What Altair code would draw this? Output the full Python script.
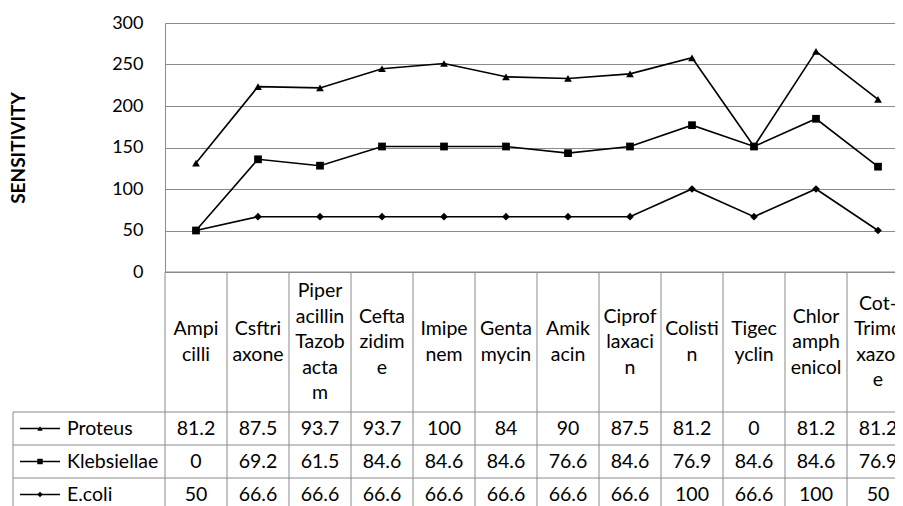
import altair as alt
import pandas as pd

# ---- data ----
drug_labels = ["Ampi\ncilli", "Csftri\naxone", "Piper\nacillin\nTazob\nacta\nm",
               "Cefta\nzidim\ne", "Imipe\nnem", "Genta\nmycin", "Amik\nacin",
               "Ciprof\nlaxaci\nn", "Colisti\nn", "Tigec\nyclin",
               "Chlor\namph\nenicol", "Cot-\nTrimo\nxazol\ne"]
series = ["Proteus", "Klebsiellae", "E.coli"]
proteus = [81.2, 87.5, 93.7, 93.7, 100, 84, 90, 87.5, 81.2, 0, 81.2, 81.2]
klebsiellae = [0, 69.2, 61.5, 84.6, 84.6, 84.6, 76.6, 84.6, 76.9, 84.6, 84.6, 76.9]
ecoli = [50, 66.6, 66.6, 66.6, 66.6, 66.6, 66.6, 66.6, 100, 66.6, 100, 50]
y_ticks = [0, 50, 100, 150, 200, 250, 300]
shapes = ["triangle-up", "square", "diamond"]

# ---- layout constants (pixels / column units) ----
COL_PX = 62
N = len(drug_labels)
SVG_W = 887
SVG_H = 498
PAD_L = 157
PAD_T = 15
PLOT_W = SVG_W - PAD_L
PLOT_H = 249
HEADER_H = 140
ROW_H = 33
LINE_H = 25.5
LABEL_LEFT = -152 / COL_PX
LEG_X1, LEG_X2, LEG_PT = -145 / COL_PX, -105 / COL_PX, -125 / COL_PX
LABEL_TEXT_X = -98 / COL_PX
GRID = "#8a8a8a"
FONT = "Lato"
FS = 19.5

raw = {"Proteus": proteus, "Klebsiellae": klebsiellae, "E.coli": ecoli}

# stacked line values (E.coli at bottom, then Klebsiellae, then Proteus)
rows = []
for i in range(N):
    e = ecoli[i]
    k = e + klebsiellae[i]
    p = k + proteus[i]
    for s, v in zip(series, [p, k, e]):
        rows.append({"x": i + 0.5, "series": s, "value": v})
lines_df = pd.DataFrame(rows)

xscale = alt.Scale(domain=[0, PLOT_W / COL_PX], nice=False, zero=False)
shape_scale = alt.Scale(domain=series, range=shapes)
table_total = HEADER_H + 3 * ROW_H
tscale = alt.Scale(domain=[0, table_total], range=[PLOT_H, PLOT_H + table_total],
                   nice=False, zero=False)

base = alt.Chart(lines_df)
lines = base.mark_line(color="black", strokeWidth=1.6).encode(
    x=alt.X("x:Q", scale=xscale, axis=None),
    y=alt.Y("value:Q",
            scale=alt.Scale(domain=[0, 300], nice=False, zero=True),
            axis=alt.Axis(values=y_ticks, grid=True, gridColor=GRID, gridWidth=1,
                          domain=True, domainColor=GRID, ticks=False, tickSize=0,
                          labelPadding=22, labelFontSize=18, labelColor="black",
                          labelFont=FONT, title="SENSITIVITY", titleFont=FONT,
                          titleFontSize=19, titleFontWeight="bold", titleColor="black",
                          titleAngle=270, titleX=-147, titleY=PLOT_H / 2,
                          titleAlign="center", titleBaseline="middle")),
    detail="series:N",
)
points = base.mark_point(filled=True, color="black", opacity=1).encode(
    x=alt.X("x:Q", scale=xscale, axis=None),
    y=alt.Y("value:Q", scale=alt.Scale(domain=[0, 300], nice=False, zero=True)),
    shape=alt.Shape("series:N", scale=shape_scale, legend=None),
    size=alt.value(60),
)
plot = alt.layer(lines, points)

# ---- data table ----
header_df = pd.DataFrame({
    "x": [i + 0.5 for i in range(N)],
    "ty": [HEADER_H / 2 - (lab.count("\n")) * LINE_H / 2 for lab in drug_labels],
    "label": drug_labels})
cells = []
for r, s in enumerate(series):
    for i in range(N):
        cells.append({"x": i + 0.5, "ty": HEADER_H + ROW_H * (r + 0.5),
                      "label": f"{raw[s][i]:g}"})
cells_df = pd.DataFrame(cells)

row_lab_df = pd.DataFrame({"series": series,
                           "x": [LABEL_TEXT_X] * 3,
                           "lx1": [LEG_X1] * 3, "lx2": [LEG_X2] * 3,
                           "px": [LEG_PT] * 3,
                           "ty": [HEADER_H + ROW_H * (r + 0.5) for r in range(3)]})

hl = [{"x": 0, "x2": N, "ty": 0}]
for r in range(4):
    hl.append({"x": LABEL_LEFT, "x2": N, "ty": HEADER_H + ROW_H * r})
hlines_df = pd.DataFrame(hl)
vl = [{"x": i, "ty": 0, "ty2": table_total + 20} for i in range(N + 1)]
vl.append({"x": LABEL_LEFT, "ty": HEADER_H, "ty2": table_total + 20})
vlines_df = pd.DataFrame(vl)

ty = lambda f="ty": alt.Y(f"{f}:Q", scale=tscale, axis=None)

header_txt = alt.Chart(header_df).mark_text(
    font=FONT, fontSize=FS, lineBreak="\n", lineHeight=LINE_H, baseline="middle",
    align="center", color="black").encode(
    x=alt.X("x:Q", scale=xscale, axis=None), y=ty(), text="label:N")
cell_txt = alt.Chart(cells_df).mark_text(
    font=FONT, fontSize=FS, baseline="middle", align="center", color="black").encode(
    x=alt.X("x:Q", scale=xscale, axis=None), y=ty(), text="label:N")
row_txt = alt.Chart(row_lab_df).mark_text(
    font=FONT, fontSize=FS, baseline="middle", align="left", color="black").encode(
    x=alt.X("x:Q", scale=xscale, axis=None), y=ty(), text="series:N")
leg_line = alt.Chart(row_lab_df).mark_rule(color="black", strokeWidth=1.5).encode(
    x=alt.X("lx1:Q", scale=xscale, axis=None), x2="lx2:Q", y=ty())
leg_pt = alt.Chart(row_lab_df).mark_point(filled=True, color="black", opacity=1).encode(
    x=alt.X("px:Q", scale=xscale, axis=None), y=ty(),
    shape=alt.Shape("series:N", scale=shape_scale, legend=None),
    size=alt.value(30))
hrules = alt.Chart(hlines_df).mark_rule(color=GRID, strokeWidth=1).encode(
    x=alt.X("x:Q", scale=xscale, axis=None), x2="x2:Q", y=ty())
vrules = alt.Chart(vlines_df).mark_rule(color=GRID, strokeWidth=1).encode(
    x=alt.X("x:Q", scale=xscale, axis=None), y=ty(), y2="ty2:Q")

chart = alt.layer(
    hrules, vrules, plot, header_txt, cell_txt, row_txt, leg_line, leg_pt
).resolve_scale(y="independent").properties(
    width=PLOT_W, height=PLOT_H,
    autosize=alt.AutoSizeParams(type="none"),
    padding={"left": PAD_L, "top": PAD_T, "right": 0,
             "bottom": SVG_H - PAD_T - PLOT_H},
).configure_view(stroke=None).configure(font=FONT, background="white")

chart.save("out.html", embed_options={"renderer": "svg", "actions": False})
